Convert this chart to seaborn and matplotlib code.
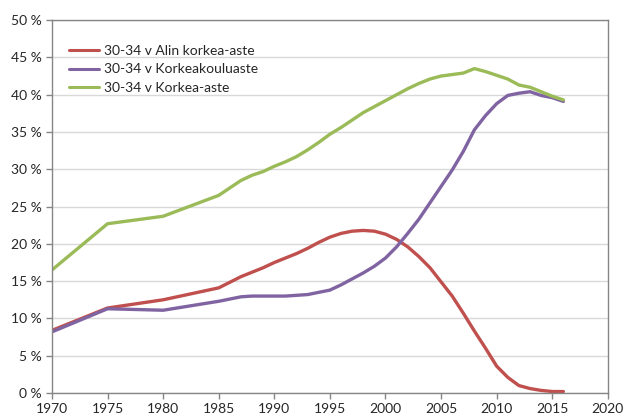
import numpy as np
import pandas as pd
import seaborn as sns
import matplotlib.pyplot as plt
from matplotlib.ticker import FuncFormatter

years = [1970, 1975, 1980, 1985] + list(range(1987, 2017))

# share of 30-34 year olds, %
alin_korkea = [8.4, 11.4, 12.5, 14.1,
               15.6, 16.2, 16.8, 17.5, 18.1, 18.7, 19.4, 20.2, 20.9, 21.4,
               21.7, 21.8, 21.7, 21.3, 20.6, 19.6, 18.3, 16.8, 14.9, 13.0,
               10.7, 8.3, 6.0, 3.6, 2.1, 1.0, 0.6, 0.35, 0.2, 0.2]
korkeakoulu = [8.2, 11.3, 11.1, 12.3,
               12.9, 13.0, 13.0, 13.0, 13.0, 13.1, 13.2, 13.5, 13.8, 14.5,
               15.3, 16.1, 17.0, 18.1, 19.6, 21.4, 23.3, 25.5, 27.7, 29.9,
               32.4, 35.3, 37.2, 38.8, 39.9, 40.2, 40.4, 39.9, 39.6, 39.1]
korkea_aste = [16.5, 22.7, 23.7, 26.5,
               28.5, 29.2, 29.7, 30.4, 31.0, 31.7, 32.6, 33.6, 34.7, 35.6,
               36.6, 37.6, 38.4, 39.2, 40.0, 40.8, 41.5, 42.1, 42.5, 42.7,
               42.9, 43.5, 43.1, 42.6, 42.1, 41.3, 41.0, 40.4, 39.8, 39.3]

series = ['30-34 v Alin korkea-aste', '30-34 v Korkeakouluaste', '30-34 v Korkea-aste']
colors = ['#C0504D', '#8064A2', '#9BBB59']

df = pd.concat([
    pd.DataFrame({'year': years, 'share': vals, 'series': name})
    for name, vals in zip(series, [alin_korkea, korkeakoulu, korkea_aste])
])

sns.set_style('white')
plt.rcParams['font.family'] = ['Lato', 'DejaVu Sans']

fig = plt.figure(figsize=(6.26, 4.19), dpi=100)
ax = fig.add_axes([0.083, 0.062, 0.888, 0.890])

sns.lineplot(data=df, x='year', y='share', hue='series', hue_order=series,
             palette=colors, linewidth=2.4, ax=ax)

ax.set_xlim(1970, 2020)
ax.set_ylim(0, 50)
ax.set_xticks(range(1970, 2021, 5))
ax.set_yticks(range(0, 51, 5))
ax.yaxis.set_major_formatter(FuncFormatter(lambda v, p: f'{int(v)} %'))
ax.grid(axis='y', color='#D9D9D9', linewidth=1)
ax.grid(axis='x', visible=False)
ax.set_axisbelow(True)
ax.set_xlabel('')
ax.set_ylabel('')

for side in ['left', 'bottom', 'top', 'right']:
    ax.spines[side].set_visible(True)
    ax.spines[side].set_color('#868686')
    ax.spines[side].set_linewidth(1)

ax.tick_params(axis='both', which='major', direction='out', length=4, width=1,
               color='#868686', labelsize=10, labelcolor='#262626',
               left=True, bottom=True)

leg = ax.legend(loc='upper left', bbox_to_anchor=(0.015, 0.955), frameon=False,
                fontsize=10, handlelength=2.2, handletextpad=0.35,
                labelspacing=0.45, borderaxespad=0.2)
for line in leg.get_lines():
    line.set_linewidth(2.2)
for t in leg.get_texts():
    t.set_color('#262626')

fig.savefig('out.png', dpi=100)
